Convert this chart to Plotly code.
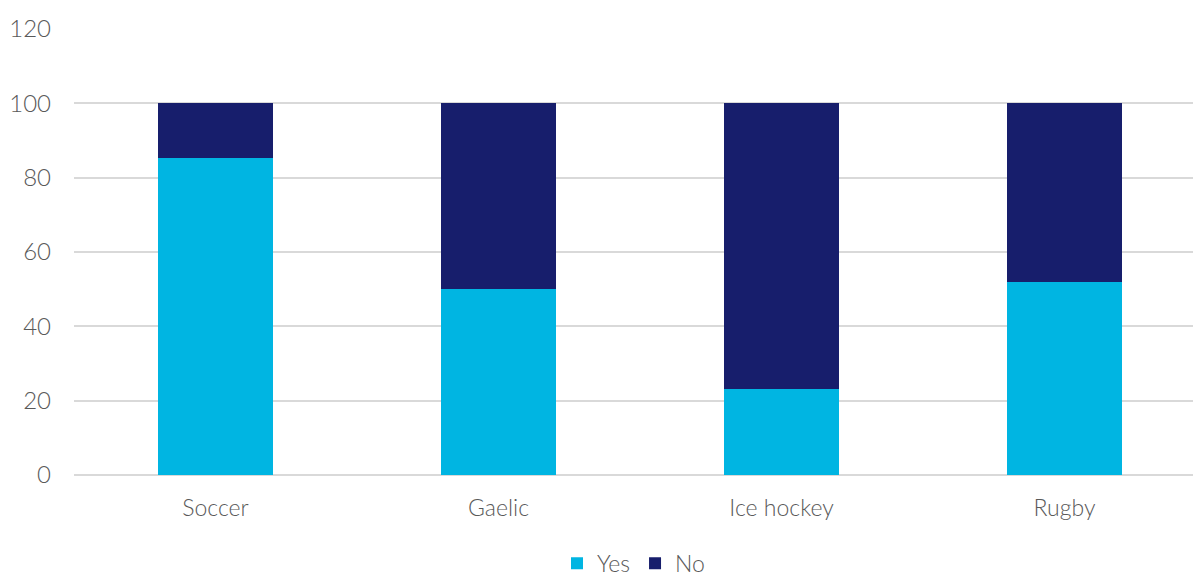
import plotly.graph_objects as go

categories = ["Soccer", "Gaelic", "Ice hockey", "Rugby"]
yes_values = [85.3, 50.0, 23.2, 52.0]
no_values = [14.7, 50.0, 76.8, 48.0]
y_ticks = [0, 20, 40, 60, 80, 100, 120]

font_family = "Century Gothic, Futura, Lato, Open Sans, sans-serif"

fig = go.Figure()
fig.add_trace(go.Bar(name="Yes", x=categories, y=yes_values, marker_color="#00b5e2",
                     marker_line_width=0, width=0.403))
fig.add_trace(go.Bar(name="No", x=categories, y=no_values, marker_color="#171e6c",
                     marker_line_width=0, width=0.403))

fig.update_layout(
    barmode="stack",
    width=1193, height=577,
    margin=dict(l=74, r=0, t=29, b=102, autoexpand=False),
    plot_bgcolor="white", paper_bgcolor="white",
    font=dict(family=font_family, color="#595959", size=22, weight=300),
    showlegend=True,
    legend=dict(orientation="h", x=0.5, xanchor="center", y=-0.198, yanchor="middle",
                font=dict(size=23, color="#595959", weight=300), itemwidth=30,
                traceorder="normal"),
    xaxis=dict(range=[-0.5, 3.454], showgrid=False, showline=False, ticks="",
               tickfont=dict(size=23, color="#595959", weight=300), ticklabelstandoff=17),
    yaxis=dict(range=[0, 120], tickvals=y_ticks, showgrid=True, gridcolor="#d9d9d9",
               gridwidth=1.5, zeroline=True, zerolinecolor="#d9d9d9", zerolinewidth=1.5,
               showline=False, ticks="", tickfont=dict(size=24, color="#595959", weight=300),
               ticklabelstandoff=22),
)

fig.write_html("out.html")
